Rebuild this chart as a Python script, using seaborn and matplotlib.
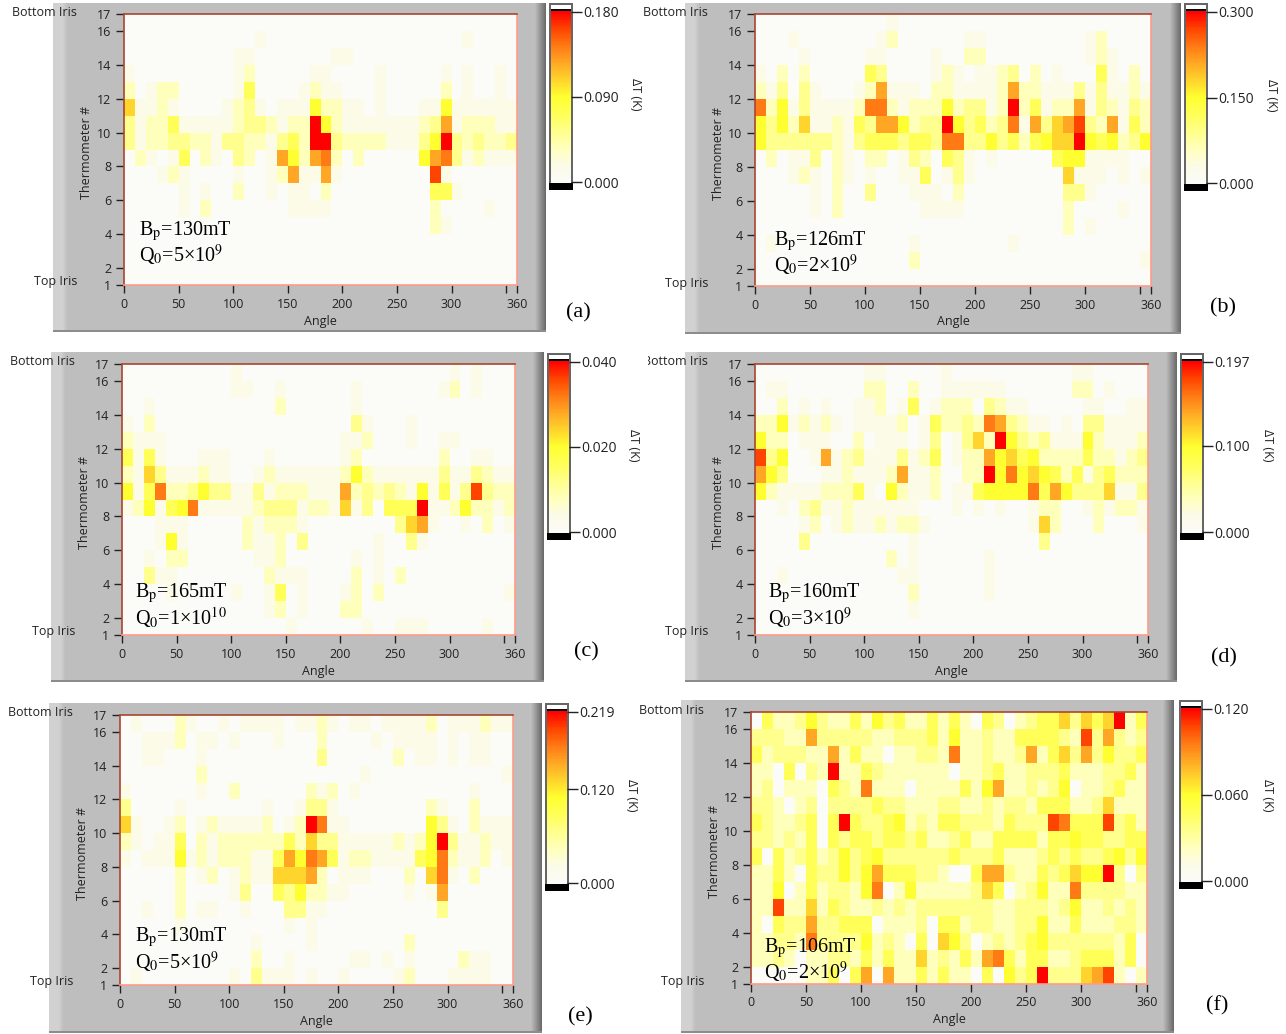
"""
Temperature maps of six cavity tests - LabVIEW style panels redrawn with seaborn heatmaps.
"""

import numpy as np
import matplotlib
matplotlib.use("Agg")
import matplotlib.pyplot as plt
from matplotlib.colors import LinearSegmentedColormap
from matplotlib.patches import Rectangle
import seaborn as sns

W, H = 1286, 1034

# Each row is one thermometer band (16-17 at the top, 1-2 at the bottom), 36 angle bins.
# Hex digit = colour level, 0 (white) .. a (full scale red)
rows_a = [
    "0000000000 0000000000 0000000000 000000",
    "0000000000 0010000000 0000000000 010000",
    "0000000000 1100000001 1000000000 000000",
    "1000000000 1200000110 0001000001 010010",
    "2012200000 1400001211 0001000002 010010",
    "6112100001 2310111522 1101000115 111111",
    "3122411111 2332122a52 1111111237 122211",
    "3122332213 3221342aa3 222211135a 323223",
    "0210140210 3201752782 0200000578 312111",
    "0001210000 1001271171 0000000091 000000",
    "0000010100 2001011020 0000000044 100000",
    "0000010200 0000011110 0000000020 000100",
    "0000000000 0000000000 0000000021 000000",
    "0000000000 0000000000 0000000000 000000",
    "0000000000 0000000000 0000000000 000000",
    "0000000000 0000000000 0000000000 000000",
]
rows_b = [
    "0000000000 0010000000 0000000000 000000",
    "0001000000 0120000001 1000000000 120000",
    "0000100000 1100001002 2000000000 121000",
    "1020200000 4300001210 1123020100 041020",
    "2130310001 2711102211 1127221113 131121",
    "8251311112 8821222523 312a241227 132132",
    "5352611214 3775233a53 4238173679 327142",
    "5333333213 4443443883 353424566a 545235",
    "0201130210 2201320431 0100000455 111100",
    "0001210210 1001140131 0000000061 110101",
    "0000010200 3000111020 0000000033 100000",
    "0000010200 0000011110 0000000020 000100",
    "0000000000 0000000000 0000000020 100000",
    "0100000000 0000100000 0001000000 000000",
    "0000000000 0000200000 0000000000 000001",
    "0000000000 0000000000 0000000000 000000",
]
rows_c = [
    "0000000000 1000000000 0000000000 101000",
    "0000000000 1100100000 0100000001 201000",
    "0010000000 0000200000 0100000000 000000",
    "1020000000 0000000000 0310001000 000000",
    "2111000000 0000000000 1120001001 100000",
    "4141000111 0001000000 1200000002 001100",
    "2163111211 0012111111 2521111113 113211",
    "5148223533 1131222111 7232321514 139322",
    "1251458111 1123331221 6130444a11 252212",
    "0001110000 0212221000 0000036710 010201",
    "0001510000 0211203000 0001003100 000000",
    "0010220000 0011200000 0101000000 000000",
    "0031100000 0002111000 0201020000 000000",
    "0000100000 1001401000 1202000000 000001",
    "0000000000 0001201000 2200000000 000000",
    "0000000000 0000010000 0010011100 000100",
]
rows_d = [
    "0000000000 1100000100 0000000001 100000",
    "0110000000 2200200111 1110000002 201000",
    "0020101001 1201401222 0321100000 110011",
    "2251212101 1112014223 2873211010 331111",
    "5220111002 0111013013 62a5323111 521112",
    "9350017123 1113124012 2756452222 422123",
    "7530001121 1127112002 2a58565424 134222",
    "5211112224 1052112011 4555584753 336113",
    "0010231121 1111100010 1010012200 121221",
    "0000120121 1212210000 0000016200 020001",
    "0000300000 0000100000 0000003000 000000",
    "0000000000 0020100000 0100000000 000000",
    "0010000000 0001100000 0100000000 000000",
    "0000000000 0000200000 0100000000 000000",
    "0000000000 0000100000 0000000000 000000",
    "0000000000 0000000000 0000000000 000000",
]
rows_e = [
    "0100021001 0111101121 0110111120 111211",
    "0011120110 1000100020 0001011110 101100",
    "0011000100 0000000030 0000020110 101100",
    "0000000200 0000000000 0010000000 000001",
    "1000000100 2000000212 0100000000 001000",
    "3000010000 0001001331 0000000021 002000",
    "6100120121 1112012a81 1000000053 102111",
    "2101140212 2222242633 111112125a 311211",
    "1011151212 2211475874 1221111458 211201",
    "0000020120 1211666720 1110002068 102000",
    "0000020000 1300435221 1000001017 000000",
    "0010020110 0100033110 0000000003 000000",
    "0000010000 0000010100 0000000000 000000",
    "0000000000 0010000100 0000002000 000000",
    "0000000000 0020010000 0110101000 021100",
    "0100000000 1031110100 1000012000 111100",
]
rows_f = [
    "0422353224 2534224242 0430234463 646a24",
    "3332273333 3223334252 2322444432 937323",
    "4233322724 2202233282 2322372463 735334",
    "2204032a22 4322222202 2342233342 223342",
    "2302220432 8222022224 2572232350 223422",
    "3320230333 3433222332 2323324442 236222",
    "43223404a4 3345232443 3324333984 449342",
    "3323240434 4344342234 2244442445 443344",
    "4042342353 4533333343 3342223434 334535",
    "2242043353 5744433200 4773224346 55a303",
    "2250242332 5802522222 3640235228 333322",
    "2292262432 2323233333 3322333235 223232",
    "2043373344 4022230442 3322335224 222332",
    "2233283333 5232040653 0232345333 333240",
    "2232022332 4242262324 2784244223 444240",
    "0000022404 7072242422 040534a333 679202",
]

# full scale and middle tick of each colour bar
scale_max = [0.180, 0.300, 0.040, 0.197, 0.219, 0.120]
scale_mid = [0.090, 0.150, 0.020, 0.100, 0.120, 0.060]
scale_labels = [
    ("0.180", "0.090", "0.000"), ("0.300", "0.150", "0.000"), ("0.040", "0.020", "0.000"),
    ("0.197", "0.100", "0.000"), ("0.219", "0.120", "0.000"), ("0.120", "0.060", "0.000"),
]
bp_text = ["130", "126", "165", "160", "130", "106"]
q0_text = ["5", "2", "1", "3", "5", "2"]
q0_exp = ["9", "9", "10", "9", "9", "9"]
letters = ["(a)", "(b)", "(c)", "(d)", "(e)", "(f)"]
x_ticks = [0, 50, 100, 150, 200, 250, 300, 350, 360]
x_tick_labels = ["0", "50", "100", "150", "200", "250", "300", "", "360"]
y_ticks = [1, 2, 4, 6, 8, 10, 12, 14, 16, 17]

# pixel layout of the six panels, all in reference image pixels
gray_boxes = [(53, 3, 546, 332), (685, 3, 1181, 334), (51, 352, 544, 682),
              (685, 352, 1177, 682), (49, 703, 542, 1033), (681, 700, 1174, 1033)]
map_boxes = [(124, 14, 517, 285), (755, 14, 1151, 286), (122, 364, 515, 635),
             (755, 364, 1148, 635), (120, 715, 513, 985), (751, 712, 1147, 984)]
bar_boxes = [(549, 3, 573, 190), (1184, 3, 1208, 191), (547, 353, 571, 540),
             (1180, 353, 1204, 540), (545, 703, 569, 891), (1179, 700, 1203, 889)]
note_pos = [(139, 228, 253), (774, 238, 263), (135, 590, 616),
            (768, 590, 616), (135, 934, 960), (764, 945, 970)]
letter_pos = [(578, 311), (1223, 306), (586, 650), (1224, 656), (580, 1015), (1217, 1004)]
unit_pos = [(635, 94), (1272, 95), (633, 445), (1268, 445), (631, 795), (1267, 795)]

all_rows = [rows_a, rows_b, rows_c, rows_d, rows_e, rows_f]

sns.set_theme(style="white")
plt.rcParams["font.family"] = ["Open Sans", "DejaVu Sans"]
plt.rcParams["mathtext.fontset"] = "stix"

thermal = LinearSegmentedColormap.from_list("thermal", [
    (0.0, "#fbfbf8"), (0.1, "#fbfbe8"), (0.2, "#ffffbc"), (0.3, "#ffff8c"),
    (0.4, "#ffff58"), (0.5, "#ffff30"), (0.6, "#ffd42c"), (0.7, "#ffa824"),
    (0.8, "#ff7a14"), (0.9, "#ff4400"), (1.0, "#ff0000"),
])

fig = plt.figure(figsize=(W / 100, H / 100), dpi=100, facecolor="white")


def px_axes(x0, y0, x1, y1, zorder=3):
    ax = fig.add_axes([x0 / W, 1 - y1 / H, (x1 - x0) / W, (y1 - y0) / H])
    ax.set_zorder(zorder)
    return ax


def px_rect(x0, y0, x1, y1, color, zorder=2):
    fig.add_artist(Rectangle((x0 / W, 1 - y1 / H), (x1 - x0) / W, (y1 - y0) / H,
                             transform=fig.transFigure, facecolor=color,
                             edgecolor="none", zorder=zorder))


def px_text(x, y, s, **kw):
    return fig.text(x / W, 1 - y / H, s, zorder=9, **kw)


def draw_gray(box):
    # window background with the lighter left edge and the dark right edge
    x0, y0, x1, y1 = box
    n = x1 - x0
    shade = np.full(n, 0.745)
    shade[:9] = 0.82
    shade[9:15] = np.linspace(0.82, 0.745, 6)
    shade[-11:] = np.linspace(0.73, 0.42, 11)
    ax = px_axes(x0, y0, x1, y1, zorder=0)
    ax.imshow(shade[None, :], aspect="auto", cmap="gray", vmin=0, vmax=1)
    ax.axis("off")
    px_rect(x0, y1 - 2, x1, y1, "#8c8c8c", zorder=1)


def draw_map(i):
    x0, y0, x1, y1 = map_boxes[i]
    values = np.array([[int(c, 16) for c in r.replace(" ", "")] for r in all_rows[i]],
                      dtype=float) / 10 * scale_max[i]
    ax = px_axes(x0, y0, x1, y1)
    sns.heatmap(values, ax=ax, cmap=thermal, vmin=0, vmax=scale_max[i], cbar=False,
                xticklabels=False, yticklabels=False)
    ax.set_xticks([a / 10 for a in x_ticks])
    ax.set_xticklabels(x_tick_labels, rotation=0)
    ax.set_yticks([17 - n for n in y_ticks])
    ax.set_yticklabels([str(n) for n in y_ticks], rotation=0)
    ax.tick_params(axis="both", length=6, width=1, color="#222222", labelsize=9,
                   labelcolor="#222222", pad=3, bottom=True, left=True)
    for side, color in [("left", "#a84632"), ("top", "#a84632"),
                        ("right", "#ff9c8c"), ("bottom", "#ff9c8c")]:
        ax.spines[side].set_visible(True)
        ax.spines[side].set_color(color)
        ax.spines[side].set_linewidth(1.2)
    px_text(x0 - 47, y0 - 2, "Bottom Iris", ha="right", va="center", fontsize=9, color="#222222")
    px_text(x0 - 47, y1 - 3, "Top Iris", ha="right", va="center", fontsize=9, color="#222222")
    px_text(x0 - 37, (y0 + y1) / 2 + 3, "Thermometer #", rotation=90, ha="center", va="center",
            fontsize=9, color="#222222")
    px_text((x0 + x1) / 2, y1 + 36, "Angle", ha="center", va="center", fontsize=9, color="#222222")

    nx, y_bp, y_q = note_pos[i]
    px_text(nx, y_bp + 3, r"B$_{\mathrm{p}}$=" + bp_text[i] + "mT", family="Liberation Serif",
            fontsize=14.5, va="center", color="black")
    px_text(nx, y_q + 2, r"Q$_{0}$=" + q0_text[i] + "×10$^{" + q0_exp[i] + "}$",
            family="Liberation Serif", fontsize=14.5, va="center", color="black")


def draw_bar(i):
    x0, y0, x1, y1 = bar_boxes[i]
    px_rect(x0, y0, x1, y1, "#666666", zorder=1)
    px_rect(x0 + 2, y0 + 2, x1 - 2, y0 + 6, "white")
    px_rect(x0 + 2, y0 + 6, x1 - 2, y0 + 8, "black")
    px_rect(x0, y1 - 7, x1, y1, "black")
    ax = px_axes(x0 + 2, y0 + 8, x1 - 2, y1 - 7)
    steps = np.linspace(scale_max[i], 0, 200)[:, None]
    sns.heatmap(steps, ax=ax, cmap=thermal, vmin=0, vmax=scale_max[i], cbar=False,
                xticklabels=False, yticklabels=False)
    ax.set_yticks([0.6, 200 * (1 - scale_mid[i] / scale_max[i]), 199.4])
    ax.yaxis.tick_right()
    ax.set_yticklabels(scale_labels[i], rotation=0)
    ax.tick_params(axis="y", length=8, width=1, color="#222222", labelsize=10,
                   labelcolor="#222222", pad=1, right=True, left=False)


for i in range(6):
    draw_gray(gray_boxes[i])
for i in range(6):
    draw_map(i)
    draw_bar(i)
    px_text(letter_pos[i][0], letter_pos[i][1] + 2, letters[i], family="Liberation Serif",
            fontsize=16, ha="center", va="center", color="black")
    px_text(unit_pos[i][0], unit_pos[i][1], "ΔT (K)", rotation=270, ha="center", va="center",
            fontsize=9, color="#222222")

# panel (d) was cropped by its neighbour in the original figure
px_rect(640, 352, 648, 372, "white", zorder=10)

fig.savefig("out.png", dpi=100, facecolor="white")
